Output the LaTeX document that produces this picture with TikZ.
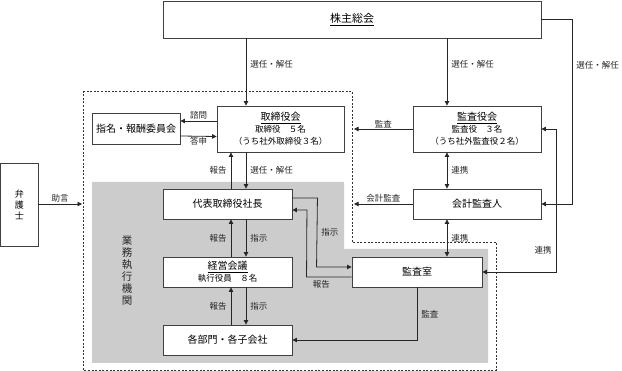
\documentclass[tikz,border=0pt]{standalone}
\usepackage{fontspec}
\setmainfont{Noto Sans CJK JP}
\usetikzlibrary{arrows.meta}
\newcommand{\subfont}{\fontsize{8.5}{11}\selectfont}

\begin{document}
\begin{tikzpicture}[x=1pt, y=-1pt,
  box/.style={draw=black!75, line width=.9pt, fill=white, align=center,
              inner sep=1pt, font=\fontsize{10}{12}\selectfont},
  link/.style={-{Triangle[length=4.5pt,width=4.5pt]}, line width=.8pt, black!85},
  both/.style={{Triangle[length=4.5pt,width=4.5pt]}-{Triangle[length=4.5pt,width=4.5pt]},
               line width=.8pt, black!85},
  lbl/.style={font=\fontsize{8.5}{10}\selectfont, inner sep=1pt, text=black!85}
]
\useasboundingbox (0,0) rectangle (622,371);

% areas
\fill[black!20] (92,182) -- (344,182) -- (344,249) -- (488,249)
  -- (488,363) -- (92,363) -- cycle;
\draw[black!80, line width=.9pt, dash pattern=on 2pt off 1.6pt]
  (83,91) -- (352,91) -- (352,242) -- (496,242) -- (496,370) -- (83,370) -- cycle;

% columns
\coordinate (up) at (231,0);
\coordinate (dn) at (246,0);
\coordinate (kx) at (447,0);
\coordinate (rx) at (556,0);
\coordinate (gx) at (572,0);
\coordinate (dL) at (82,204);
\coordinate (dR) at (354,0);

% boxes
\node[box, minimum width=378pt, minimum height=37pt, font=\fontsize{11}{13}\selectfont]
  (soukai) at (352,19.5) {\underline{株主総会}};
\node[box, minimum width=127pt, minimum height=46pt] (torishimari) at (280.5,129)
  {\underline{取締役会}\\ {\subfont 取締役\quad ５名}\\ {\subfont （うち社外取締役３名）}};
\node[box, minimum width=88pt, minimum height=31pt] (shimei) at (136,128.5)
  {指名・報酬委員会};
\node[box, minimum width=128pt, minimum height=46pt] (kansayaku) at (477,129)
  {\underline{監査役会}\\ {\subfont 監査役\quad ３名}\\ {\subfont （うち社外監査役２名）}};
\node[box, minimum width=128pt, minimum height=30pt] (kaikei) at (477,204)
  {会計監査人};
\node[box, minimum width=130pt, minimum height=30pt] (kansashitsu) at (417,272)
  {監査室};
\node[box, minimum width=129pt, minimum height=30pt] (daihyo) at (227.5,204)
  {代表取締役社長};
\node[box, minimum width=129pt, minimum height=30pt] (keiei) at (227.5,272)
  {\underline{経営会議}\\ {\subfont 執行役員\quad ８名}};
\node[box, minimum width=129pt, minimum height=30pt] (kakubu) at (227.5,340)
  {各部門・各子会社};
\node[box, minimum width=37.5pt, minimum height=83pt, font=\fontsize{9}{11}\selectfont]
  (bengoshi) at (19.25,204.5) {弁\\護\\士};
\node[align=center, font=\fontsize{10.5}{12}\selectfont, text=black!85]
  (gyomu) at (127,271) {業\\務\\執\\行\\機\\関};

% shareholders
\draw[link] (soukai.south -| dn) -- node[lbl, right=3pt, pos=.38] {選任・解任}
  (torishimari.north -| dn);
\draw[link] (soukai.south -| kx) -- node[lbl, right=3pt, pos=.38] {選任・解任}
  (kansayaku.north -| kx);
\draw[link] (soukai.east) -- (soukai.east -| gx)
  -- node[lbl, right=3pt, pos=.25] {選任・解任} (kaikei.east -| gx) -- (kaikei.east);

% board
\draw[link] ([yshift=8pt]torishimari.west) -- node[lbl, above] {諮問}
  ([yshift=7.5pt]shimei.east);
\draw[link] ([yshift=-7.5pt]shimei.east) -- node[lbl, below] {答申}
  ([yshift=-7.5pt]torishimari.west);
\draw[link] (kansayaku.west) -- node[lbl, above] {監査} (kansayaku.west -| dR);
\draw[link] (kaikei.west) -- node[lbl, above] {会計監査} (kaikei.west -| dR);
\draw[both] (kansayaku.south -| kx) -- node[lbl, right=3pt] {連携} (kaikei.north -| kx);
\draw[both] (kaikei.south -| kx) -- node[lbl, right=3pt] {連携} (kansashitsu.north -| kx);
\draw[both] (kansayaku.east) -- (kansayaku.east -| rx)
  -- node[lbl, left=3pt, pos=.85] {連携} (kansashitsu.east -| rx) -- (kansashitsu.east);

% execution
\draw[link] (daihyo.north -| up) -- node[lbl, left=3pt] {報告} (torishimari.south -| up);
\draw[link] (torishimari.south -| dn) -- node[lbl, right=3pt] {選任・解任} (daihyo.north -| dn);
\draw[link] (keiei.north -| up) -- node[lbl, left=3pt] {報告} (daihyo.south -| up);
\draw[link] (daihyo.south -| dn) -- node[lbl, right=3pt] {指示} (keiei.north -| dn);
\draw[link] (kakubu.north -| up) -- node[lbl, left=3pt] {報告} (keiei.south -| up);
\draw[link] (keiei.south -| dn) -- node[lbl, right=3pt] {指示} (kakubu.north -| dn);

% audit office
\draw[link] ([yshift=6pt]daihyo.east) -- ++(25,0)
  -- node[lbl, right=3pt] {指示} ([xshift=-35pt,yshift=5pt]kansashitsu.west)
  -- ([yshift=5pt]kansashitsu.west);
\draw[link] ([yshift=-5pt]kansashitsu.west)
  -- node[lbl, below=2pt, pos=.67] {報告} ([xshift=-45pt,yshift=-5pt]kansashitsu.west)
  -- ([xshift=14.5pt,yshift=-6pt]daihyo.east) -- ([yshift=-6pt]daihyo.east);
\draw[link] (kansashitsu.south) -- node[lbl, right=3pt] {監査}
  (kansashitsu.south |- kakubu.east) -- (kakubu.east);

% lawyer
\draw[link] (bengoshi.east |- dL) -- node[lbl, above] {助言} (dL);
\end{tikzpicture}
\end{document}
